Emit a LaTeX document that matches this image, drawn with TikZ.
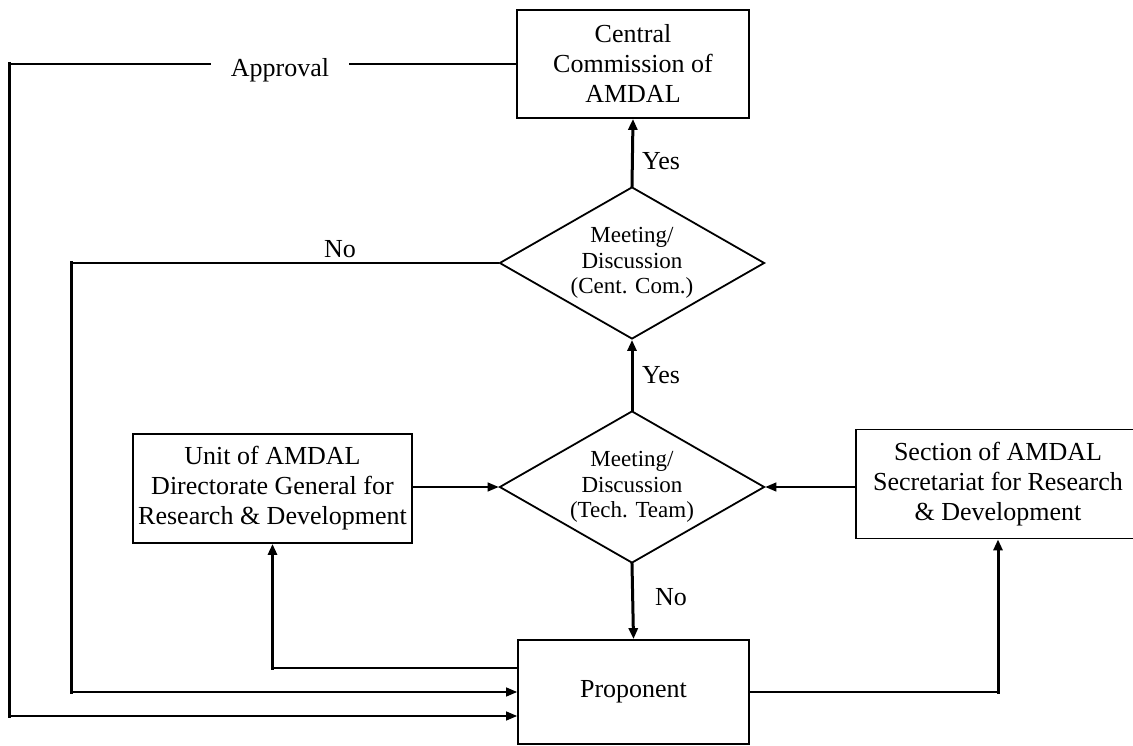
\documentclass[tikz,border=0pt]{standalone}
\usepackage{fontspec}
\setmainfont{Liberation Serif}
\usetikzlibrary{arrows.meta,shapes.geometric}
\begin{document}
\begin{tikzpicture}[x=1pt,y=-1pt,
  box/.style={draw,line width=1.8pt,inner sep=0pt,align=center,font=\fontsize{26}{30}\selectfont},
  dec/.style={draw,diamond,line width=1.8pt,inner sep=0pt,aspect=1.74,minimum width=265pt,minimum height=152pt,align=center,font=\fontsize{23}{25.5}\selectfont},
  lbl/.style={font=\fontsize{26}{30}\selectfont,inner sep=0pt},
  thinline/.style={line width=1.4pt},
  thickline/.style={line width=3pt,line cap=rect},
  tipS/.style={-{Triangle[length=11pt,width=9pt]}},
]
\useasboundingbox (0,0) rectangle (1133,746);
\fill[white] (0,0) rectangle (1133,746);

% nodes
\node[box,minimum width=232pt,minimum height=108pt] (cc) at (633,64) {Central\\Commission of\\AMDAL};
\node[dec] (d1) at (632,263) {Meeting/\\Discussion\\(Cent. Com.)};
\node[dec] (d2) at (632,487) {Meeting/\\Discussion\\(Tech. Team)};
\node[box,minimum width=279pt,minimum height=109pt] (unit) at (272.5,488.5) {Unit of AMDAL\\Directorate General for\\Research \& Development};
\node[box,minimum width=284pt,minimum height=109pt] (sec) at (998,484) {Section of AMDAL\\Secretariat for Research\\\& Development};
\node[box,minimum width=231pt,minimum height=104pt] (prop) at (633.5,692) {Proponent};

% labels
\node[lbl,anchor=base west] (yes1) at (642,170) {Yes};
\node[lbl,anchor=base west] (yes2) at (642,383) {Yes};
\node[lbl,anchor=base west] (no2) at (655,605) {No};
\node[lbl,anchor=base] (no1) at (340,258) {No};

% coordinates
\coordinate (apA) at (9,64);
\coordinate (apB) at (9,716);
\coordinate (noA) at (71,263);
\coordinate (noB) at (71,692);
\coordinate (pu) at ([yshift=24pt]prop.west);
\coordinate (pa) at ([yshift=-24pt]prop.west);
\coordinate (puC) at (pu -| unit.south);
\coordinate (psC) at (prop.east -| sec.south);

% vertical arrows
\draw[thickline,tipS] (d1.north) -- (cc.south);
\draw[thickline,tipS] (d2.north) -- (d1.south);
\draw[thickline,tipS] (d2.south) -- (prop.north);

% side boxes into tech team meeting
\draw[thinline,tipS] (unit.east |- d2.west) -- (d2.west);
\draw[thinline,tipS] (sec.west |- d2.east) -- (d2.east);

% proponent to unit / section
\draw[thinline] (pu) -- (puC);
\draw[thickline,tipS] (puC) -- (unit.south);
\draw[thinline] (prop.east) -- (psC);
\draw[thickline,tipS] (psC) -- (sec.south);

% No from central commission meeting
\draw[thinline] (d1.west) -- (noA);
\draw[thickline] (noA) -- (noB);
\draw[thinline,tipS] (noB) -- (prop.west);

% Approval
\draw[thinline] (cc.west) -- (apA);
\draw[thickline] (apA) -- (apB);
\draw[thinline,tipS] (apB) -- (pa);
\node[lbl,anchor=base,fill=white,inner xsep=20pt,inner ysep=3pt] (apr) at (280,77) {Approval};
\end{tikzpicture}
\end{document}
